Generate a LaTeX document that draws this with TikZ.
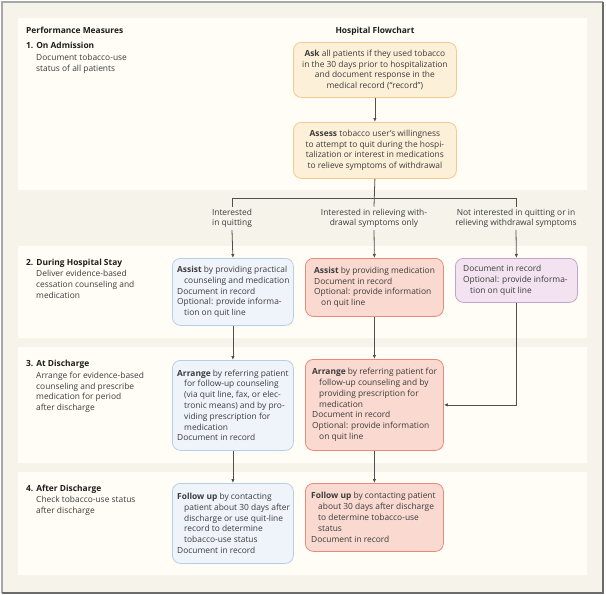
\documentclass[tikz,border=0pt]{standalone}
\usepackage{fontspec}
\setmainfont{Open Sans}
\usetikzlibrary{arrows.meta,calc}
\definecolor{outerbg}{HTML}{F5F3EA}
\definecolor{bandbg}{HTML}{FFFDF5}
\definecolor{frameL}{HTML}{A8A8A8}
\definecolor{frameD}{HTML}{6A6A6A}
\definecolor{txtc}{HTML}{3C3C3C}
\definecolor{headc}{HTML}{1E1E1E}
\definecolor{orfill}{HTML}{FDF0D9}
\definecolor{ordraw}{HTML}{F5C98A}
\definecolor{blfill}{HTML}{EFF4FB}
\definecolor{bldraw}{HTML}{B5CFE8}
\definecolor{rdfill}{HTML}{F9D9D0}
\definecolor{rddraw}{HTML}{E98A78}
\definecolor{pufill}{HTML}{F3E3F1}
\definecolor{pudraw}{HTML}{C5A3CB}
\definecolor{connc}{HTML}{505050}
\newcommand{\hind}{\hspace*{7pt}}
\begin{document}
\begin{tikzpicture}[x=1pt,y=-1pt,
  every node/.style={font=\fontsize{8.4}{10.8}\selectfont, text=txtc, inner sep=0pt},
  head/.style={font=\fontsize{8.4}{10.8}\selectfont\bfseries, text=headc, anchor=mid west},
  desc/.style={align=left, anchor=north west},
  flowbox/.style={draw, rounded corners=8pt, line width=0.8pt, anchor=north west},
  orbox/.style={flowbox, fill=orfill, draw=ordraw, align=center},
  blbox/.style={flowbox, fill=blfill, draw=bldraw},
  rdbox/.style={flowbox, fill=rdfill, draw=rddraw},
  pubox/.style={flowbox, fill=pufill, draw=pudraw},
  boxtext/.style={align=left, anchor=west},
  lab/.style={align=center, inner ysep=2pt},
  conn/.style={draw=connc, line width=0.8pt},
  arr/.style={conn, -{Latex[length=4pt,width=3.4pt]}}]
\useasboundingbox (0,0) rectangle (606,595);
\fill[white] (0,0) rectangle (606,595);
\fill[outerbg] (2,2) rectangle (603,593);
\draw[frameL, line width=1.5pt] (2,593) -- (2,2) -- (603,2);
\draw[frameD, line width=1.5pt] (603,2) -- (603,593) -- (2,593);
% bands
\fill[bandbg] (18,18) rectangle (587,190);
\fill[bandbg] (18,246) rectangle (587,338);
\fill[bandbg] (18,347) rectangle (587,463);
\fill[bandbg] (18,472) rectangle (587,575);
% left column
\node[head] (pm) at (26,31) {Performance Measures};
\node[head] (s1) at (26,46.3) {1. On Admission};
\node[desc] (d1) at (36,53.8) {Document tobacco-use\\status of all patients};
\node[head] (s2) at (26,263.3) {2. During Hospital Stay};
\node[desc] (d2) at (36,270.4) {Deliver evidence-based\\cessation counseling and\\medication};
\node[head] (s3) at (26,364.3) {3. At Discharge};
\node[desc] (d3) at (36,371.7) {Arrange for evidence-based\\counseling and prescribe\\medication for period\\after discharge};
\node[head] (s4) at (26,489) {4. After Discharge};
\node[desc] (d4) at (36,495.7) {Check tobacco-use status\\after discharge};
\node[head, anchor=mid] (hf) at (375,31) {Hospital Flowchart};
% boxes
\node[orbox, minimum width=163pt, minimum height=55pt] (ask) at (293,42)
  {\textbf{Ask} all patients if they used tobacco\\in the 30 days prior to hospitalization\\and document response in the\\medical record (“record”)};
\node[orbox, minimum width=163pt, minimum height=56pt] (assess) at (293,122)
  {\textbf{Assess} tobacco user’s willingness\\to attempt to quit during the hospi-\\talization or interest in medications\\to relieve symptoms of withdrawal};
\node[blbox, minimum width=121pt, minimum height=67pt] (assistB) at (172,258) {};
\node[rdbox, minimum width=138pt, minimum height=58pt] (assistR) at (305,258) {};
\node[pubox, minimum width=122pt, minimum height=44pt] (doc) at (455,258) {};
\node[blbox, minimum width=121pt, minimum height=90pt] (arrB) at (172,360) {};
\node[rdbox, minimum width=138pt, minimum height=91pt] (arrR) at (305,359) {};
\node[blbox, minimum width=121pt, minimum height=80pt] (folB) at (172,483) {};
\node[rdbox, minimum width=138pt, minimum height=68pt] (folR) at (305,483) {};
% box texts
\node[boxtext] (tAssistB) at ($(assistB.west)+(5,0)$)
  {\textbf{Assist} by providing practical\\\hind counseling and medication\\Document in record\\Optional: provide informa-\\\hind tion on quit line};
\node[boxtext] (tAssistR) at ($(assistR.west)+(9,0)$)
  {\textbf{Assist} by providing medication\\Document in record\\Optional: provide information\\\hind on quit line};
\node[boxtext] (tDoc) at ($(doc.west)+(8,0)$)
  {Document in record\\Optional: provide informa-\\\hind tion on quit line};
\node[boxtext] (tArrB) at ($(arrB.west)+(5,0)$)
  {\textbf{Arrange} by referring patient\\\hind for follow-up counseling\\\hind (via quit line, fax, or elec-\\\hind tronic means) and by pro-\\\hind viding prescription for\\\hind medication\\Document in record};
\node[boxtext] (tArrR) at ($(arrR.west)+(7,0)$)
  {\textbf{Arrange} by referring patient for\\\hind follow-up counseling and by\\\hind providing prescription for\\\hind medication\\Document in record\\Optional: provide information\\\hind on quit line};
\node[boxtext] (tFolB) at ($(folB.west)+(5,0)$)
  {\textbf{Follow up} by contacting\\\hind patient about 30 days after\\\hind discharge or use quit-line\\\hind record to determine\\\hind tobacco-use status\\Document in record};
\node[boxtext] (tFolR) at ($(folR.west)+(6,0)$)
  {\textbf{Follow up} by contacting patient\\\hind about 30 days after discharge\\\hind to determine tobacco-use\\\hind status\\Document in record};
% branch labels
\node[lab] (l1) at (232,218.3) {Interested\\in quitting};
\node[lab] (l2) at (374,218.3) {Interested in relieving with-\\drawal symptoms only};
\node[lab] (l3) at (516,218.3) {Not interested in quitting or in\\relieving withdrawal symptoms};
\coordinate (j) at (374,198);
% connectors
\draw[arr] (ask.south) -- (assess.south |- ask.south) -- (assess.north);
\draw[conn] (assess.south) -- (l2.north);
\draw[conn] (l1.north) -- (l1.north |- j) -- (l3.north |- j) -- (l3.north);
\draw[arr] (l1.south) -- (assistB.north);
\draw[arr] (l2.south) -- (assistR.north);
\draw[arr] (l3.south) -- (doc.north);
\draw[arr] (assistB.south) -- (arrB.north);
\draw[arr] (assistR.south) -- (arrR.north);
\draw[arr] (doc.south) |- (arrR.east);
\draw[arr] (arrB.south) -- (folB.north);
\draw[arr] (arrR.south) -- (folR.north);
\end{tikzpicture}
\end{document}
